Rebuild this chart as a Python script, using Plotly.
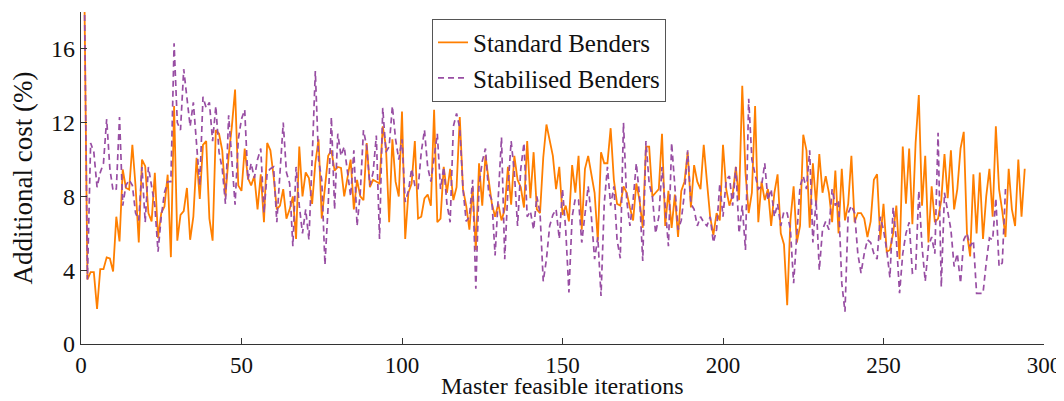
import plotly.graph_objects as go

# additional cost (%) per master feasible iteration
standard_cost = [
    20, 3.5, 3.9, 3.9, 1.9, 4.06, 4.06, 4.7, 4.64, 3.93, 6.9, 5.56, 9.46, 8.46, 8.37, 10.8, 8.55, 5.5, 10.0, 9.64,
    7.1, 6.65, 9.28, 5.74, 7.1, 7.46, 9.18, 4.71, 12.9, 5.6, 7.0, 7.2, 8.46, 5.65, 6.9, 10.1, 7.86,
    10.8, 11.0, 6.8, 5.6, 11.6, 11.4, 10.5, 8.0, 10.2, 11.8, 13.8, 8.6, 8.3, 10.6, 9.0, 8.6, 9.1, 7.3, 9.2, 6.6,
    10.9, 10.5, 9.1, 7.3, 7.5, 8.4, 6.8, 7.3, 8.0, 5.7, 10.7, 8.0, 9.3, 9.0, 7.6, 9.8,
    11.1, 6.8, 8.6, 10.2, 10.5, 9.4, 9.6, 9.55, 8.0, 9.1, 10.0, 7.3, 8.9, 8.0, 7.8, 10.9, 8.5, 8.9, 8.8, 8.7,
    11.8, 10.7, 6.6, 11.1, 8.8, 8.0, 12.6, 5.7, 8.2, 8.7, 11.0, 6.8, 6.9, 7.9, 8.1, 7.5, 12.7,
    6.6, 6.8, 9.6, 8.2, 9.5, 7.8, 8.5, 12.3, 8.4, 7.5, 6.2, 8.5, 5.1, 9.8, 7.5, 10.2, 8.8, 7.6, 6.9, 7.6,
    6.7, 7.3, 9.6, 7.55, 10.2, 8.9, 8.5, 7.4, 11.0, 7.9, 10.4, 7.3, 7.1, 10.1, 11.9, 11.1,
    10.2, 8.4, 9.6, 7.0, 7.5, 6.65, 9.7, 8.2, 10.2, 6.2, 9.5, 10.2, 9.1, 8.2, 5.6, 10.4, 9.8, 9.8, 11.7, 8.9,
    7.6, 7.5, 8.55, 8.2, 7.4, 6.7, 8.7, 7.8, 6.3, 10.7, 10.7, 8.0, 8.2, 8.4, 11.4, 6.4,
    8.3, 6.3, 8.1, 5.8, 8.3, 8.8, 10.4, 7.4, 9.7, 8.8, 8.4, 10.8, 8.8, 6.9, 5.9, 7.1, 6.7, 10.8, 8.4, 7.5,
    8.1, 9.6, 7.8, 14.0, 9.3, 7.1, 8.2, 12.9, 6.6, 8.8, 7.8, 8.4, 6.4, 8.2, 9.2, 6.0, 5.4, 2.1,
    6.7, 8.55, 5.5, 6.4, 11.35, 10.5, 6.3, 9.8, 7.55, 10.3, 8.2, 9.1, 8.2, 6.6, 9.4, 6.0, 9.5, 6.7, 7.6, 10.2,
    6.6, 7.1, 7.1, 6.8, 5.8, 6.65, 8.9, 9.2, 5.65, 7.6, 5.0, 5.1, 6.0, 7.5, 4.6, 10.7,
    7.6, 10.6, 6.5, 10.9, 13.5, 7.5, 10.2, 5.5, 8.55, 6.6, 6.8, 7.8, 10.3, 7.9, 10.5, 7.3, 8.4, 10.6, 11.5, 6.0,
    4.75, 9.2, 6.0, 9.3, 5.7, 8.0, 9.5, 6.9, 11.8, 8.4, 7.2, 5.8, 9.5, 7.3, 6.4, 10.0, 6.9, 9.5,
]

stabilised_cost = [
    20, 3.5, 10.9, 10.4, 8.5, 9.3, 9.8, 12.2, 9.5, 8.3, 8.4, 12.3, 7.5, 8.6, 8.9, 8.6, 7.1, 6.7, 9.6, 6.6,
    9.6, 8.6, 7.5, 5.0, 6.9, 8.2, 8.8, 8.8, 16.3, 12.0, 11.6, 14.9, 13.4, 11.8, 13.1, 10.9, 8.6,
    13.4, 12.8, 13.1, 11.0, 12.9, 10.4, 9.5, 7.6, 12.4, 10.2, 7.55, 11.1, 12.2, 12.7, 8.9, 9.8, 9.0, 10.0, 10.6,
    7.1, 9.3, 9.5, 9.6, 6.6, 9.1, 12.0, 9.3, 8.7, 5.3, 9.6, 7.5, 6.0, 7.3, 5.65, 10.0, 14.8,
    10.0, 8.9, 4.3, 7.5, 12.3, 7.3, 11.4, 10.2, 10.7, 9.3, 8.0, 10.5, 6.4, 8.2, 11.6, 10.7, 8.6, 9.3, 11.3, 5.7,
    12.8, 10.4, 10.7, 12.9, 11.1, 10.0, 11.1, 7.7, 8.3, 9.5, 8.6, 8.4, 10.4, 11.6, 9.6, 8.8, 10.2,
    11.4, 8.4, 9.6, 7.6, 6.6, 11.8, 12.5, 11.7, 8.4, 6.65, 6.9, 8.9, 3.0, 8.6, 9.9, 10.6, 8.2, 7.8, 4.8, 8.0,
    11.2, 4.6, 8.4, 11.0, 9.3, 6.4, 9.5, 10.9, 6.9, 7.2, 6.2, 8.0, 7.1, 3.4, 4.6, 6.4,
    7.0, 7.3, 5.7, 8.4, 6.2, 2.8, 6.9, 7.9, 7.8, 5.5, 6.9, 8.55, 6.9, 4.6, 5.8, 2.6, 7.6, 9.6, 7.5, 8.55,
    5.65, 4.65, 12.0, 7.8, 6.4, 7.8, 9.8, 8.0, 4.5, 11.0, 8.7, 8.0, 6.0, 6.9, 9.6, 7.6, 5.3, 10.9,
    8.7, 6.2, 6.7, 8.2, 10.5, 7.6, 7.3, 6.4, 6.9, 6.6, 6.4, 6.9, 5.5, 6.2, 8.7, 6.9, 8.9, 9.1, 7.5, 9.6,
    6.0, 7.5, 5.1, 13.3, 10.0, 9.1, 8.4, 8.55, 9.8, 7.8, 8.4, 6.9, 7.6, 6.4, 7.2,
    7.1, 6.2, 3.3, 5.65, 8.55, 9.1, 8.4, 10.5, 5.5, 7.8, 4.0, 6.2, 6.65, 6.2, 8.4, 7.5, 7.8, 3.3, 1.75, 7.1,
    7.5, 7.1, 4.9, 3.85, 4.9, 5.65, 5.5, 4.9, 4.6, 6.9, 6.2, 5.1, 3.6, 7.4, 5.65, 2.75, 4.9,
    6.0, 6.6, 3.85, 3.95, 8.3, 5.3, 3.4, 5.3, 5.8, 4.9, 11.45, 3.1, 8.2, 7.3, 6.2, 4.2, 4.9, 3.3, 5.65, 6.0,
    5.3, 5.6, 2.75, 2.75, 2.75, 4.4, 5.75, 5.65, 7.9, 4.2, 4.4, 8.4,
]

standard_iter = list(range(1, len(standard_cost) + 1))
stabilised_iter = list(range(1, len(stabilised_cost) + 1))

x_ticks = [0, 50, 100, 150, 200, 250, 300]
y_ticks = [0, 4, 8, 12, 16]

FONT = "Liberation Serif"
AXIS = "#333333"

fig = go.Figure()
fig.add_trace(go.Scatter(x=standard_iter, y=standard_cost, mode="lines", name="Standard Benders",
                         line=dict(color="#ff7f00", width=1.8)))
fig.add_trace(go.Scatter(x=stabilised_iter, y=stabilised_cost, mode="lines", name="Stabilised Benders",
                         line=dict(color="#984ea3", width=1.7, dash="6px,4px")))

# the page body adds 8px around the plot div, so the figure is a bit smaller than the window
fig.update_layout(
    width=1056, height=393,
    margin=dict(l=73, r=20, t=4, b=57),
    paper_bgcolor="white", plot_bgcolor="white",
    font=dict(family=FONT, size=24, color="#111111"),
    legend=dict(x=0.3645, y=0.98, xanchor="left", yanchor="top",
                bordercolor="#555555", borderwidth=1, bgcolor="white",
                font=dict(size=25), tracegroupgap=0, itemwidth=30),
)
fig.update_xaxes(range=[0, 300], tickvals=x_ticks, ticks="inside", ticklen=6, tickcolor=AXIS,
                 showline=True, linecolor=AXIS, linewidth=1.2, showgrid=False, zeroline=False,
                 automargin=False, tickfont=dict(size=23))
fig.update_yaxes(range=[0, 18], tickvals=y_ticks, ticks="inside", ticklen=6, tickcolor=AXIS,
                 showline=True, linecolor=AXIS, linewidth=1.2, showgrid=False, zeroline=False,
                 automargin=False,
                 title=dict(text="Additional cost (%)", font=dict(size=27), standoff=12))
fig.add_annotation(text="Master feasible iterations", xref="paper", yref="paper",
                   x=0.5, y=-0.128, xanchor="center", yanchor="middle", borderpad=0,
                   showarrow=False, font=dict(size=24))

fig.write_html("out.html")
